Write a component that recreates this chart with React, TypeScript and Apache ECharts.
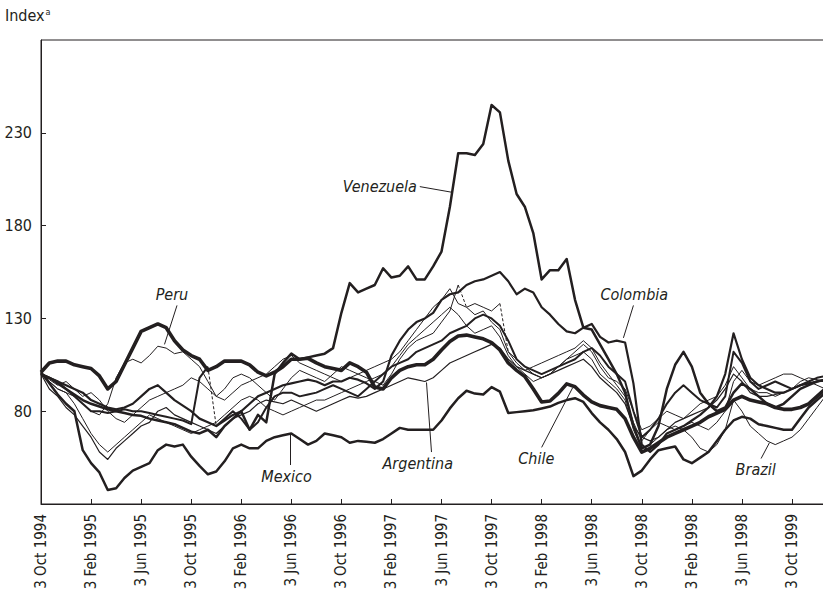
import React, { useEffect, useRef } from 'react';
import * as echarts from 'echarts';

// x-axis: one step = about two and a half weeks; a labelled tick every 6 steps (4 months)
const STEP = 6;
const tickLabels = [
  '3 Oct 1994', '3 Feb 1995', '3 Jun 1995', '3 Oct 1995', '3 Feb 1996', '3 Jun 1996',
  '3 Oct 1996', '3 Feb 1997', '3 Jun 1997', '3 Oct 1997', '3 Feb 1998', '3 Jun 1998',
  '3 Oct 1998', '3 Feb 1998', '3 Jun 1998', '3 Oct 1999',
];
const yTicks = [80, 130, 180, 230];

const venezuela = [
  100, 98, 95, 92, 89, 86, 84, 82.5, 81, 80, 79, 78, 77.5, 76, 75, 74, 73, 71, 69, 68, 70, 66,
  72, 76, 80, 70, 78, 74, 100, 106, 111, 108, 109, 110, 111, 114,
  133, 149, 144, 146, 148, 157, 152, 153, 158, 151, 151, 158,
  166, 190, 219, 219, 218, 224, 245, 241, 215, 197, 190, 176,
  151, 156, 156, 162, 140, 125, 124, 116, 108, 100, 90, 72,
  60, 62, 72, 92, 105, 112, 104, 90, 84, 80, 82, 90,
  95, 92, 88, 84, 82, 84, 88, 92, 94, 96, 97,
];
const chile = [
  101, 106, 107, 107, 105, 104, 103, 99, 92, 96, 105, 114, 123, 125, 127, 125, 118, 113, 110, 108, 102, 104, 107, 107,
  107, 105, 101, 99, 101, 104, 108, 108, 108.5, 106, 104, 103, 102, 106, 104, 101, 93, 92, 98, 102, 104, 105, 105, 108,
  113, 117.5, 120.5, 121, 120, 119, 117, 113, 106, 102, 98.6, 92, 85, 85.5, 89.6, 94.7, 93.2, 88.7, 85, 83, 82, 81,
  76, 66, 58, 60, 63, 66, 68, 70, 72, 74, 77, 79, 81, 86, 88, 86, 85, 84, 82, 81, 81, 82, 84, 88, 92,
];
const mexico = [
  101, 95, 89, 84, 80, 59, 52, 47, 37.5, 38.5, 44, 48, 50, 52, 59, 62, 61, 62, 55.5, 50.5, 46, 47.5, 53, 60,
  62, 60, 60, 64, 66, 67, 68, 65, 62, 64, 68, 67, 66, 63, 64, 63.5, 63, 65, 68, 71, 70, 70, 70, 70,
  75, 81.5, 87, 91, 89.5, 89, 93, 90.5, 79, 79.5, 80, 80.5, 81.5, 82.5, 84.5, 86, 87, 85, 79, 74, 70, 65,
  58, 45, 48, 54, 59, 60, 61, 54, 52, 55, 58, 64, 70, 75, 77, 76, 73, 72, 71, 70, 70, 76, 82, 86, 90,
];
const colombia = [
  100, 98, 96, 94, 92, 90, 86, 84, 82, 81, 82, 84, 88, 92, 94, 90, 86, 83, 80, 76, 74, 72, 75, 78,
  80, 84, 88, 90, 92, 94, 95, 96, 97, 96, 94, 96, 96, 98, 97, 95, 92, 96, 110, 118, 124, 128, 130, 133,
  140, 143, 144, 148, 150, 151, 153, 155, 150, 143, 146, 144, 136, 132, 127, 123, 122, 125, 127, 120, 117, 118,
  117, 95, 62, 58, 62, 68, 70, 72, 75, 78, 82, 88, 100, 122, 108, 98, 94, 92, 90, 90, 92, 94, 95, 96, 97,
];
const peru = [
  101, 96, 92, 90, 88, 84, 80, 78, 84, 98, 106, 108, 106, 110, 115, 114, 111, 112, 108, 104, 96, 88, 92, 98,
  100, 98, 94, 90, 86, 92, 98, 102, 100, 98, 96, 100, 104, 102, 100, 98, 96, 94, 100, 108, 114, 118, 120, 122,
  128, 134, 148, 136, 132, 134, 128, 124, 112, 108, 104, 100, 98, 100, 104, 108, 112, 116, 112, 104, 98, 96,
  92, 80, 70, 72, 76, 80, 78, 76, 80, 84, 86, 88, 94, 104, 98, 92, 90, 90, 88, 90, 92, 96, 98, 97, 96,
];
const argentina = [
  100, 92, 88, 82, 78, 72, 66, 58, 54, 60, 64, 68, 72, 74, 80, 82, 78, 76, 74, 72, 70, 68, 72, 76,
  78, 80, 84, 86, 85, 84, 86, 84, 82, 80, 82, 84, 86, 88, 87, 88, 90, 92, 94, 96, 98, 97, 96, 98,
  102, 106, 108, 110, 112, 114, 116, 114, 108, 104, 102, 100, 98, 100, 102, 104, 106, 108, 104, 98, 94, 90,
  84, 72, 66, 64, 66, 70, 74, 76, 78, 80, 82, 86, 92, 100, 96, 90, 88, 88, 89, 90, 92, 94, 95, 96, 96,
];
const brazil = [
  100, 96, 92, 90, 84, 76, 68, 62, 58, 62, 66, 70, 74, 78, 76, 74, 72, 70, 68, 70, 72, 74, 78, 82,
  86, 88, 86, 82, 80, 78, 80, 82, 84, 86, 86, 88, 90, 92, 94, 96, 98, 100, 104, 110, 116, 120, 124, 128,
  132, 136, 132, 126, 122, 124, 126, 120, 110, 104, 100, 96, 98, 100, 104, 108, 110, 112, 108, 100, 96, 92,
  86, 70, 60, 62, 66, 70, 72, 70, 66, 60, 58, 62, 70, 86, 80, 72, 68, 64, 62, 64, 66, 70, 76, 82, 88,
];
const otherA = [
  100, 97, 94, 96, 92, 88, 90, 86, 80, 76, 74, 78, 82, 86, 88, 90, 92, 94, 98, 96, 92, 88, 86, 90,
  94, 96, 98, 100, 104, 108, 110, 106, 104, 102, 100, 98, 96, 98, 100, 102, 104, 106, 108, 112, 118, 124, 130, 136,
  140, 146, 138, 136, 138, 136, 134, 138, 112, 106, 102, 104, 106, 108, 110, 112, 114, 118, 114, 106, 100, 94,
  88, 74, 64, 70, 74, 72, 70, 72, 74, 72, 70, 74, 80, 96, 102, 96, 94, 96, 98, 100, 100, 98, 96, 94, 92,
];
const otherB = [
  100, 98, 96, 92, 88, 84, 80, 80, 79, 80, 81, 80, 80, 79, 78, 77, 76, 75, 73, 98, 104, 72, 76, 80,
  76, 70, 74, 82, 88, 90, 90, 88, 89, 90, 92, 94, 92, 90, 88, 92, 96, 100, 104, 106, 108, 112, 114, 116,
  118, 122, 124, 126, 130, 132, 130, 126, 118, 108, 104, 102, 100, 102, 104, 106, 108, 112, 114, 110, 104, 100,
  96, 80, 66, 70, 76, 84, 90, 94, 90, 86, 84, 82, 88, 112, 106, 96, 92, 94, 96, 94, 92, 94, 96, 98, 99,
];

const lines = [
  { name: 'Venezuela', values: venezuela, width: 2.5, gaps: [] as number[] },
  { name: 'Chile', values: chile, width: 3.6, gaps: [] as number[] },
  { name: 'Mexico', values: mexico, width: 2.5, gaps: [] as number[] },
  { name: 'Colombia', values: colombia, width: 2.2, gaps: [] as number[] },
  { name: 'Peru', values: peru, width: 1, gaps: [50] },
  { name: 'Argentina', values: argentina, width: 1.2, gaps: [] as number[] },
  { name: 'Brazil', values: brazil, width: 1, gaps: [] as number[] },
  { name: 'Other A', values: otherA, width: 1, gaps: [55] },
  { name: 'Other B', values: otherB, width: 2, gaps: [20] },
];

// annotation label -> arrow (in data units: [step, index])
const annotations = [
  { text: 'Venezuela', from: [45.4, 201], to: [49.2, 198], shift: 0 },
  { text: 'Peru', from: [16.3, 137], to: [14.8, 116], shift: 12 },
  { text: 'Colombia', from: [71.0, 137], to: [69.8, 119.5], shift: 0 },
  { text: 'Mexico', from: [29.9, 51], to: [29.9, 67.5], shift: 8 },
  { text: 'Argentina', from: [46.8, 58], to: [46.2, 95.5], shift: 28 },
  { text: 'Chile', from: [60.0, 60.5], to: [63.7, 92.5], shift: 8 },
  { text: 'Brazil', from: [86.3, 54.5], to: [87.3, 63], shift: 8 },
];

const INK = '#231f20';
const FONT = "'DejaVu Sans Condensed', 'DejaVu Sans', sans-serif";

function toData(values: number[], gaps: number[]) {
  const out: any[] = [];
  values.forEach((v, i) => {
    out.push([i, v]);
    if (gaps.includes(i)) out.push([i + 0.5, null]);
  });
  return out;
}

export default function App() {
  const ref = useRef<HTMLDivElement>(null);
  useEffect(() => {
    if (!ref.current) return;
    const chart = echarts.init(ref.current, undefined, { renderer: 'svg' });
    const series: any[] = [];
    lines.forEach((l) => {
      series.push({
        name: l.name,
        type: 'line',
        data: toData(l.values, l.gaps),
        showSymbol: false,
        symbol: 'none',
        connectNulls: false,
        lineStyle: { color: INK, width: l.width, join: 'round' },
        emphasis: { disabled: true },
        z: 2,
      });
      l.gaps.forEach((g) => {
        series.push({
          name: l.name + ' gap',
          type: 'line',
          data: [[g, l.values[g]], [g + 1, l.values[g + 1]]],
          showSymbol: false,
          symbol: 'none',
          lineStyle: { color: INK, width: 1, type: [3, 2] },
          emphasis: { disabled: true },
          z: 2,
        });
      });
    });
    series.push({
      name: 'labels',
      type: 'line',
      data: [],
      markLine: {
        silent: true,
        animation: false,
        symbol: ['none', 'arrow'],
        symbolSize: [0, 8],
        lineStyle: { color: INK, width: 1, type: 'solid' },
        label: {
          show: true,
          position: 'start',
          formatter: '{b}',
          distance: 3,
          color: INK,
          fontFamily: FONT,
          fontStyle: 'italic',
          fontSize: 16,
        },
        emphasis: { disabled: true },
        data: annotations.map((a) => [
          { name: a.text, coord: a.from, label: a.shift ? { padding: [0, a.shift, 0, 0] } : undefined },
          { coord: a.to },
        ]),
      },
    });

    chart.setOption({
      animation: false,
      grid: {
        left: 41, right: -1, top: 40, bottom: 93,
        show: true, borderColor: INK, borderWidth: 1,
        containLabel: false, outerBoundsMode: 'none',
      },
      graphic: [
        {
          type: 'text',
          left: 5,
          top: 7,
          style: {
            text: '{m|Index}{s|a}',
            rich: {
              m: { fontFamily: FONT, fontSize: 16, fill: INK, color: INK },
              s: { fontFamily: FONT, fontSize: 9, fill: INK, color: INK, verticalAlign: 'top', padding: [0, 0, 8, 1] },
            },
          },
        },
      ],
      xAxis: {
        type: 'value',
        min: 0,
        max: 93.84,
        interval: STEP,
        splitLine: { show: false },
        axisLine: { show: true, lineStyle: { color: INK, width: 1 } },
        axisTick: {
          show: true, inside: true, length: 5,
          lineStyle: { color: INK },
          customValues: tickLabels.map((_, k) => k * STEP),
        },
        axisLabel: {
          rotate: 90,
          margin: 10,
          color: INK,
          fontFamily: FONT,
          fontSize: 15,
          customValues: tickLabels.map((_, k) => k * STEP),
          formatter: (v: number) => {
            const k = Math.round(v / STEP);
            return Math.abs(v - k * STEP) < 1e-6 ? tickLabels[k] ?? '' : '';
          },
        },
      },
      yAxis: {
        type: 'value',
        min: 30,
        max: 280,
        interval: 50,
        splitLine: { show: false },
        axisLine: { show: true, lineStyle: { color: INK, width: 1 } },
        axisTick: {
          show: true, inside: true, length: 5,
          lineStyle: { color: INK },
          customValues: yTicks,
        },
        axisLabel: {
          margin: 9,
          color: INK,
          fontFamily: FONT,
          fontSize: 16,
          customValues: yTicks,
        },
      },
      series,
    });
    return () => chart.dispose();
  }, []);
  return (
    <div
      ref={ref}
      style={{ position: 'fixed', left: 0, top: 0, width: 823, height: 597, background: '#fff' }}
    />
  );
}
